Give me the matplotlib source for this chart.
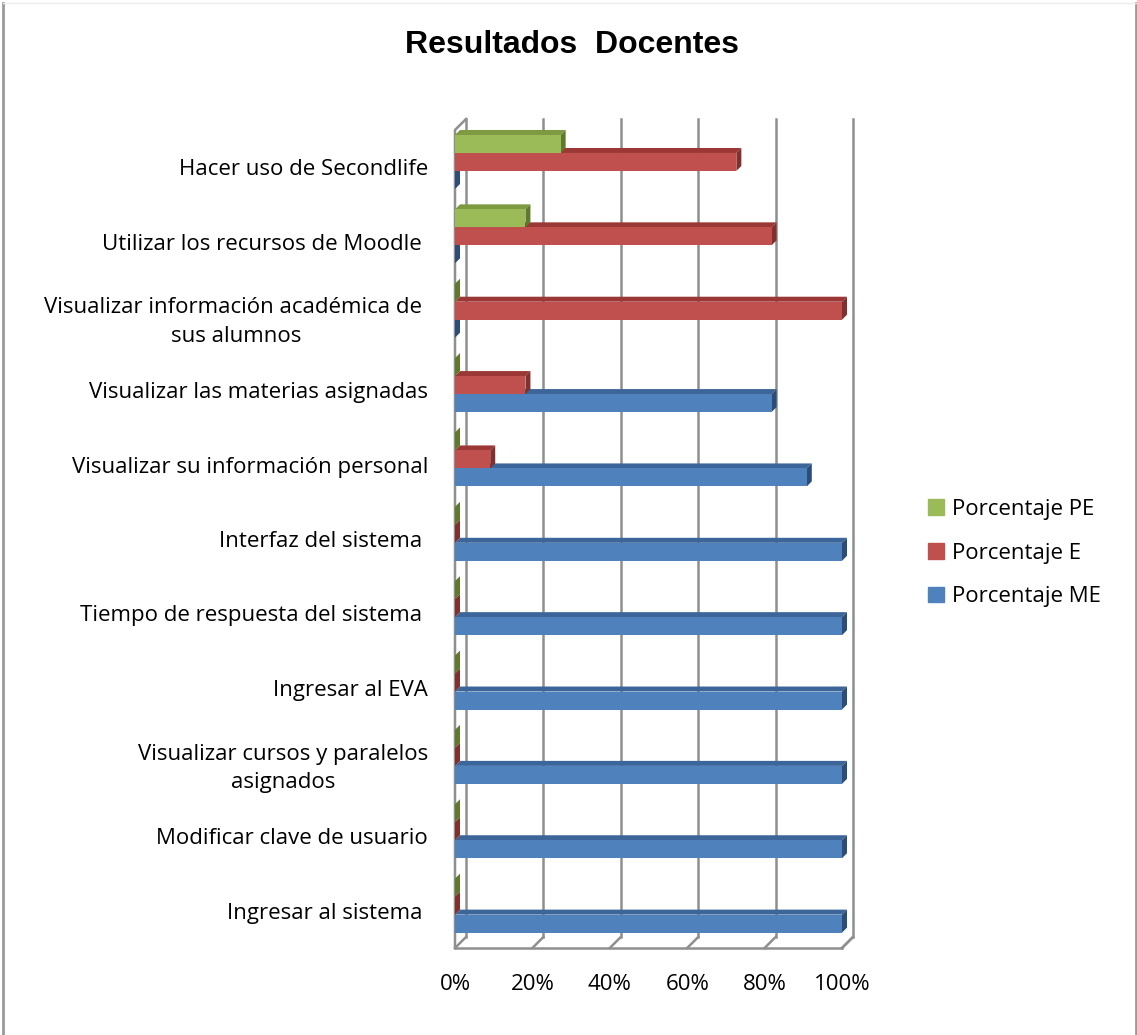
import matplotlib.pyplot as plt
from matplotlib.patches import Polygon, Patch
from matplotlib.ticker import PercentFormatter
import numpy as np

plt.rcParams['font.family'] = ['Open Sans', 'DejaVu Sans']

# categorías de abajo hacia arriba (orden de la serie en la hoja)
categorias = [
    "Ingresar al sistema ",
    "Modificar clave de usuario",
    "Visualizar cursos y paralelos\nasignados",
    "Ingresar al EVA",
    "Tiempo de respuesta del sistema ",
    "Interfaz del sistema ",
    "Visualizar su información personal",
    "Visualizar las materias asignadas",
    "Visualizar información académica de \nsus alumnos",
    "Utilizar los recursos de Moodle ",
    "Hacer uso de Secondlife",
]

porc_me = [100, 100, 100, 100, 100, 100, 90.9, 81.8, 0, 0, 0]
porc_e = [0, 0, 0, 0, 0, 0, 9.1, 18.2, 100, 81.8, 72.7]
porc_pe = [0, 0, 0, 0, 0, 0, 0, 0, 0, 18.2, 27.3]

series = [
    ("Porcentaje ME", porc_me, "#4F81BD", "#3C659A", "#2B4D78"),
    ("Porcentaje E", porc_e, "#C0504D", "#9B3835", "#82302D"),
    ("Porcentaje PE", porc_pe, "#9BBB59", "#7D9A40", "#5F7A2C"),
]

fig = plt.figure(figsize=(11.37, 10.35), dpi=100)
W, H = 1137, 1035
x0, x1, ytop, ybot = 455, 842, 130, 948
ax = fig.add_axes([x0 / W, 1 - ybot / H, (x1 - x0) / W, (ybot - ytop) / H])

n = len(categorias)
ax.set_xlim(0, 100)
ax.set_ylim(-0.5, n - 0.5)

px_x = (x1 - x0) / 100.0
px_y = (ybot - ytop) / n
# profundidad de las barras y de las paredes (en unidades de datos)
bdx, bdy = 5 / px_x, 5 / px_y
wdx, wdy = 11 / px_x, 11 / px_y

# paredes y rejilla
gcol = "#8f8f8f"
yb, yt = -0.5, n - 0.5
for t in np.arange(0, 101, 20):
    ax.plot([t + wdx, t + wdx], [yb + wdy, yt + wdy], color=gcol, lw=1.8,
            clip_on=False, zorder=1)
    ax.plot([t, t + wdx], [yb, yb + wdy], color=gcol, lw=1.8,
            clip_on=False, zorder=1)
ax.plot([0, 100], [yb, yb], color=gcol, lw=1.8, clip_on=False, zorder=1)
ax.plot([100, 100 + wdx], [yb, yb + wdy], color=gcol, lw=1.8, clip_on=False, zorder=1)
ax.plot([0, 0, wdx], [yb, yt, yt + wdy], color=gcol, lw=1.8, clip_on=False, zorder=1)

h = 0.242
ys = np.arange(n) + 0.07
for k, (nombre, vals, c_front, c_top, c_side) in enumerate(series):
    yc = ys + (k - 1) * h
    ax.barh(yc, vals, height=h, color=c_front, label=nombre, zorder=4)
    for y, v in zip(yc, vals):
        lo, hi = y - h / 2, y + h / 2
        if v > 0:
            ax.add_patch(Polygon([(0, hi), (v, hi), (v + bdx, hi + bdy), (bdx, hi + bdy)],
                                 closed=True, facecolor=c_top, edgecolor='none',
                                 zorder=3, clip_on=False))
        ax.add_patch(Polygon([(v, lo), (v + bdx, lo + bdy), (v + bdx, hi + bdy), (v, hi)],
                             closed=True, facecolor=c_side, edgecolor='none',
                             zorder=3, clip_on=False))

for s in ax.spines.values():
    s.set_visible(False)

ax.set_yticks(np.arange(n))
ax.set_yticklabels(categorias, fontsize=16, ha='right', multialignment='center',
                   linespacing=1.45)
ax.set_xticks(np.arange(0, 101, 20))
ax.xaxis.set_major_formatter(PercentFormatter(decimals=0))
ax.tick_params(axis='y', length=0, pad=19.5)
ax.tick_params(axis='x', length=0, pad=19, labelsize=16)

handles = [Patch(color=c, label=nm) for nm, _, c, _, _ in series][::-1]
fig.legend(handles=handles, loc='center left', bbox_to_anchor=(928 / W, 1 - 553 / H),
           frameon=False, fontsize=16, handlelength=0.7, handleheight=0.7,
           handletextpad=0.4, labelspacing=1.03, borderpad=0, borderaxespad=0)

fig.text(572 / W, 1 - 53 / H, "Resultados  Docentes", fontsize=23, fontweight='bold',
         family='Liberation Sans', ha='center', va='baseline')

# marco del gráfico
fig.add_artist(plt.Line2D([3 / W, 3 / W], [0, 1 - 3 / H], color="#9a9a9a", lw=2))
fig.add_artist(plt.Line2D([1135.5 / W, 1135.5 / W], [0, 1 - 3 / H], color="#9a9a9a", lw=2))
fig.add_artist(plt.Line2D([3 / W, 1135.5 / W], [1 - 3 / H, 1 - 3 / H], color="#ececec", lw=1))

fig.savefig("out.png", dpi=100)
